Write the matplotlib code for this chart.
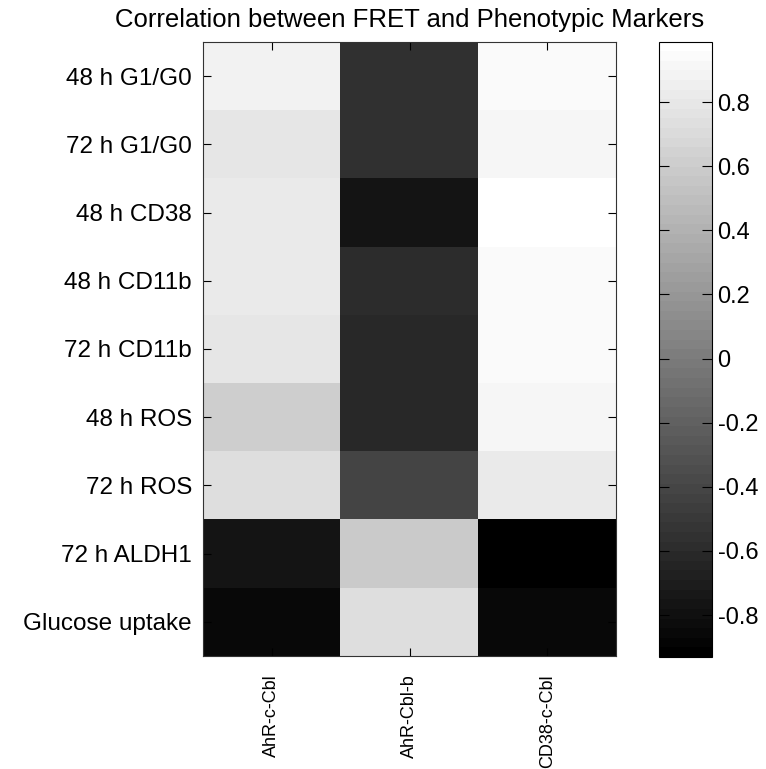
import numpy as np
import matplotlib
matplotlib.use("Agg")
import matplotlib.pyplot as plt

plt.rcParams['font.family'] = ['Liberation Sans', 'DejaVu Sans']

rows = ["48 h G1/G0", "72 h G1/G0", "48 h CD38", "48 h CD11b", "72 h CD11b",
        "48 h ROS", "72 h ROS", "72 h ALDH1", "Glucose uptake"]
cols = ["AhR-c-Cbl", "AhR-Cbl-b", "CD38-c-Cbl"]

ahr_ccbl = [0.876, 0.801, 0.838, 0.838, 0.801, 0.613, 0.741, -0.765, -0.856]
ahr_cblb = [-0.555, -0.555, -0.765, -0.592, -0.615, -0.615, -0.419, 0.575, 0.726]
cd38_ccbl = [0.936, 0.914, 0.989, 0.936, 0.951, 0.914, 0.816, -0.931, -0.856]

title = "Correlation between FRET and Phenotypic Markers"
cbar_ticks = [-0.8, -0.6, -0.4, -0.2, 0, 0.2, 0.4, 0.6, 0.8]

data = np.column_stack([ahr_ccbl, ahr_cblb, cd38_ccbl])

W, H = 766, 769
fig = plt.figure(figsize=(W / 100, H / 100), dpi=100)

def rect(l, r, t, b):
    return [l / W, (H - b) / H, (r - l) / W, (b - t) / H]

ax = fig.add_axes(rect(203, 616, 42, 656))
cax = fig.add_axes(rect(659, 712, 41.5, 657))

cmap = plt.get_cmap('gray', 64)
im = ax.imshow(data, cmap=cmap, aspect='auto', interpolation='nearest',
               vmin=data.min(), vmax=data.max())

ax.set_yticks(range(len(rows)))
ax.set_yticklabels(rows, fontsize=17.5)
ax.set_xticks(range(len(cols)))
ax.set_xticklabels(cols, rotation=90, fontsize=13, va='top')
ax.tick_params(axis='both', direction='in', length=6, width=0.8,
               top=True, right=True, color='black')
ax.tick_params(axis='y', pad=8)
ax.tick_params(axis='x', pad=13)
for s in ax.spines.values():
    s.set_linewidth(0.8)
    s.set_color('#333333')

ax.set_title(title, fontsize=18.5, pad=11)

cb = fig.colorbar(im, cax=cax, ticks=cbar_ticks)
cb.ax.set_yticklabels(['%g' % t for t in cbar_ticks], fontsize=17)
cb.ax.tick_params(direction='in', length=7, width=0.8, left=True, right=True, pad=4)
cb.outline.set_linewidth(0.8)

fig.savefig("out.png", dpi=100)
